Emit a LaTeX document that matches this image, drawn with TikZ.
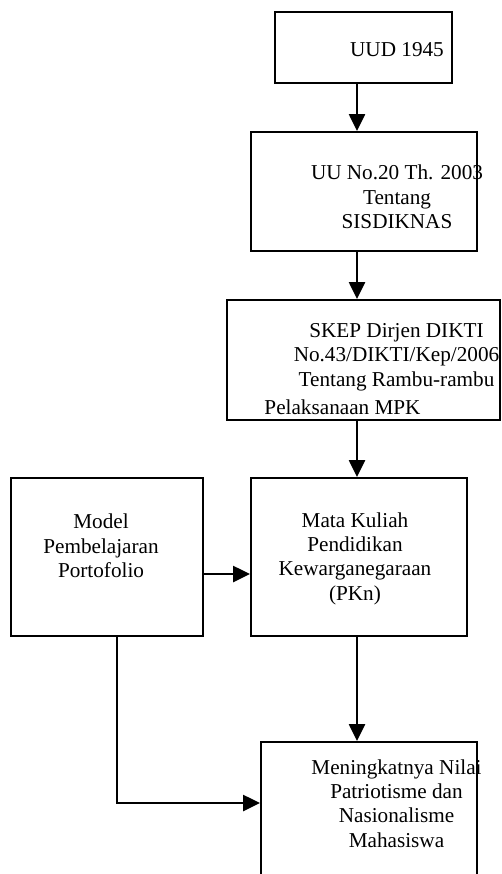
\documentclass[tikz,border=0pt]{standalone}
\usepackage{fontspec}
\setmainfont{Liberation Serif}
\usetikzlibrary{arrows.meta}

\begin{document}
\begin{tikzpicture}[
    x=0.5pt, y=-0.5pt,
    box/.style={draw, line width=1pt, rectangle, inner sep=0pt},
    txt/.style={align=center, inner sep=0pt,
        font=\fontsize{10.6pt}{12.2pt}\selectfont},
    arr/.style={line width=1.3pt, -{Triangle[length=8.5pt,width=8pt]}}]

    % page frame, the last box runs off the bottom
    \clip (0,0) rectangle (502,874);

    % columns and rows used by the arrows
    \coordinate (spine) at (357,0);
    \coordinate (row) at (0,574);
    \coordinate (drop) at (117,803);

    % boxes
    \node [box, minimum width=88.5pt, minimum height=35.5pt] at (363.5,47.5) (uud) {};
    \node [box, minimum width=113pt, minimum height=59.5pt] at (364,191.5) (uu) {};
    \node [box, minimum width=136.5pt, minimum height=60pt] at (363.5,360) (skep) {};
    \node [box, minimum width=96pt, minimum height=79pt] at (107,557) (model) {};
    \node [box, minimum width=108pt, minimum height=79pt] at (359,557) (pkn) {};
    \node [box, minimum width=108pt, minimum height=79pt] at (369,821) (hasil) {};

    % texts, placed as in the scan (not centred in the boxes)
    \node [txt] at (397,50) (uudtxt) {UUD 1945};
    \node [txt] at (397,197) (uutxt) {UU No.20 Th. 2003\\Tentang\\SISDIKNAS};
    \node [txt] at (396.5,357) (skeptxt) {SKEP Dirjen DIKTI\\No.43/DIKTI/Kep/2006\\Tentang Rambu-rambu};
    \node [txt] at (342.5,407) (skeptxtb) {Pelaksanaan MPK};
    \node [txt] at (101,546) (modeltxt) {Model\\Pembelajaran\\Portofolio};
    \node [txt] at (355,558.5) (pkntxt) {Mata Kuliah\\Pendidikan\\Kewarganegaraan\\(PKn)};
    \node [txt] at (396.5,803.5) (hasiltxt) {Meningkatnya Nilai\\Patriotisme dan\\Nasionalisme\\Mahasiswa};

    % arrows down the right column
    \draw [arr] (uud.south -| spine) -- (uu.north -| spine);
    \draw [arr] (uu.south -| spine) -- (skep.north -| spine);
    \draw [arr] (skep.south -| spine) -- (pkn.north -| spine);
    \draw [arr] (pkn.south -| spine) -- (hasil.north -| spine);

    % model into the course, and round the corner to the result
    \draw [arr] (model.east |- row) -- (pkn.west |- row);
    \draw [arr] (model.south -| drop) |- (hasil.west |- drop);

\end{tikzpicture}
\end{document}
